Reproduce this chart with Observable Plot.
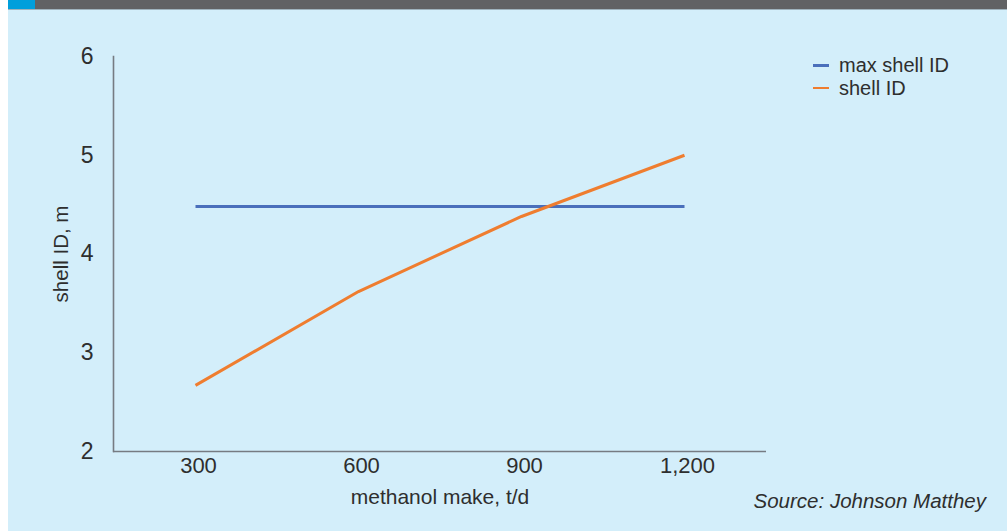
<!DOCTYPE html>
<html>
<head>
<meta charset="utf-8">
<script src="https://cdn.jsdelivr.net/npm/d3@7"></script>
<script src="https://cdn.jsdelivr.net/npm/@observablehq/plot@0.6"></script>
<style>
  html, body { margin: 0; padding: 0; background: #ffffff; }
  #wrap { position: relative; width: 1007px; height: 531px; overflow: hidden; background: #ffffff; font-family: "Liberation Sans", Arial, sans-serif; }
  #bg { position: absolute; left: 8px; top: 0; width: 999px; height: 531px; background: #d3eefa; }
  #topbar { position: absolute; left: 8px; top: 0; width: 999px; height: 9px; background: #616264; border-bottom: 1px solid #9fb3bd; }
  #topsq { position: absolute; left: 8px; top: 0; width: 27px; height: 9px; background: #009fdc; }
  #chart { position: absolute; left: 0; top: 0; }
  #legend { position: absolute; left: 813px; top: 54px; font-size: 20px; color: #2e2e2e; line-height: 22.5px; }
  #legend .item { display: flex; align-items: center; white-space: nowrap; }
  #legend .sw { width: 16px; height: 3px; margin-right: 10px; }
  #source { position: absolute; right: 21px; top: 489px; font-size: 20.5px; font-style: italic; color: #2e2e2e; }
</style>
</head>
<body>
<div id="wrap">
  <div id="bg"></div>
  <div id="topbar"></div>
  <div id="topsq"></div>
  <div id="chart"></div>
  <div id="legend"></div>
  <div id="source">Source: Johnson Matthey</div>
</div>
<script>
// ---- data ----
const capacities = ["300", "600", "900", "1,200"];        // methanol make, t/d
const shellID = [2.67, 3.62, 4.38, 5.0];                  // shell ID, m
const maxShellID = [4.48, 4.48, 4.48, 4.48];              // max shell ID, m
const seriesNames = ["max shell ID", "shell ID"];
const seriesColors = ["#4a6fbb", "#ef7d2f"];
const yTicks = [2, 3, 4, 5, 6];
const xTitle = "methanol make, t/d";
const yTitle = "shell ID, m";

// ---- table ----
const rows = [];
capacities.forEach((c, i) => rows.push({cap: c, value: maxShellID[i], series: seriesNames[0]}));
capacities.forEach((c, i) => rows.push({cap: c, value: shellID[i], series: seriesNames[1]}));

const axisColor = "#767b82";
const textColor = "#2e2e2e";

const plot = Plot.plot({
  width: 1007,
  height: 531,
  marginLeft: 113,
  marginRight: 241,
  marginTop: 56,
  marginBottom: 80,
  style: {background: "transparent", fontFamily: "'Liberation Sans', Arial, sans-serif", color: textColor, overflow: "visible"},
  x: {type: "point", domain: capacities, padding: 0.5},
  y: {domain: [2, 6]},
  color: {domain: seriesNames, range: seriesColors},
  marks: [
    Plot.ruleY([2], {stroke: axisColor, strokeWidth: 1.6}),
    Plot.frame({anchor: "left", stroke: axisColor, strokeWidth: 1.6}),
    Plot.axisY({ticks: yTicks, tickFormat: d3.format("d"), tickSize: 0, tickPadding: 20, fontSize: 23, fill: textColor, label: null}),
    Plot.axisY({ticks: [], label: yTitle, labelAnchor: "center", labelOffset: 60, labelArrow: "none", fontSize: 20.5, fill: textColor}),
    Plot.axisX({tickSize: 0, tickPadding: 6, fontSize: 22, fill: textColor, dx: 3, label: null}),
    Plot.axisX({ticks: [], label: xTitle, labelAnchor: "center", labelOffset: 52, labelArrow: "none", fontSize: 21, fill: textColor}),
    Plot.line(rows, {x: "cap", y: "value", z: "series", stroke: "series", strokeWidth: 3, strokeLinecap: "butt", strokeLinejoin: "round"})
  ]
});
document.getElementById("chart").appendChild(plot);

// ---- legend ----
const legend = document.getElementById("legend");
seriesNames.forEach((name, i) => {
  const item = document.createElement("div");
  item.className = "item";
  const sw = document.createElement("span");
  sw.className = "sw";
  sw.style.background = seriesColors[i];
  if (i === 1) sw.style.height = "2px";
  const t = document.createElement("span");
  t.textContent = name;
  item.appendChild(sw);
  item.appendChild(t);
  legend.appendChild(item);
});
</script>
</body>
</html>
